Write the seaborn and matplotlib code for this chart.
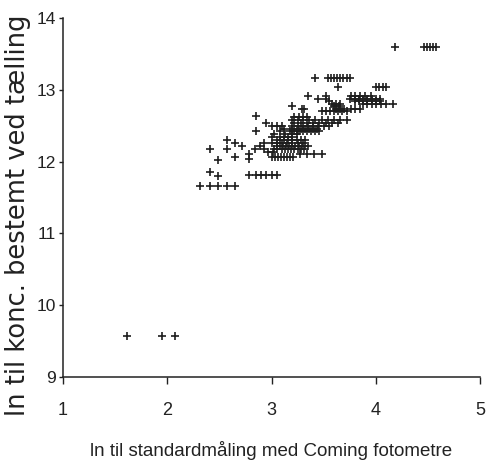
import matplotlib
matplotlib.use("Agg")
import matplotlib.pyplot as plt
import seaborn as sns
import pandas as pd
from matplotlib.ticker import MultipleLocator

# ---- data: each row is one y level with its x values ----
row_y = [9.57, 11.665, 11.80, 11.82, 11.86, 12.02, 12.03, 12.07, 12.10, 12.13,
         12.18, 12.22, 12.26, 12.30, 12.34, 12.38, 12.42, 12.46, 12.50, 12.54,
         12.58, 12.62, 12.63, 12.70, 12.73, 12.77, 12.80, 12.84, 12.87, 12.91,
         13.04, 13.16, 13.60]
row_x = [
    [1.61, 1.95, 2.07],
    [2.31, 2.41, 2.49, 2.57, 2.65],
    [2.49],
    [2.78, 2.85, 2.90, 2.95, 3.00, 3.05],
    [2.41],
    [2.49],
    [2.78],
    [2.65, 3.00, 3.03, 3.06, 3.09, 3.12, 3.15, 3.18, 3.21],
    [2.78, 3.27, 3.34, 3.41, 3.48],
    [2.97, 3.01],
    [2.41, 2.57, 2.84, 2.93, 3.02, 3.05, 3.10, 3.13, 3.16, 3.19, 3.22, 3.25, 3.28, 3.31],
    [2.72, 2.89, 3.05, 3.08, 3.11, 3.14, 3.17, 3.20, 3.23, 3.26, 3.29, 3.32, 3.35],
    [2.65, 2.93, 3.00, 3.05, 3.10, 3.15, 3.20, 3.25, 3.30],
    [2.57, 3.05, 3.08, 3.12, 3.16, 3.20, 3.24, 3.28, 3.32],
    [3.00, 3.08, 3.12, 3.16, 3.20],
    [3.02, 3.13, 3.20, 3.24],
    [2.85, 3.08, 3.18, 3.22, 3.26, 3.30, 3.34, 3.38, 3.42, 3.46],
    [3.12, 3.20, 3.24, 3.28, 3.32, 3.36, 3.40, 3.44],
    [3.00, 3.05, 3.10, 3.20, 3.25, 3.30, 3.35, 3.40, 3.45, 3.50, 3.55],
    [2.95, 3.22, 3.28, 3.34, 3.40, 3.46, 3.52, 3.58, 3.64],
    [3.20, 3.25, 3.30, 3.36, 3.42, 3.48, 3.54, 3.60, 3.66, 3.72],
    [3.22, 3.26, 3.30, 3.34],
    [2.85],
    [3.48, 3.52, 3.56, 3.60, 3.64, 3.68, 3.72],
    [3.29, 3.31, 3.62, 3.66, 3.70, 3.76, 3.80, 3.85],
    [3.20, 3.60, 3.65],
    [3.58, 3.62, 3.66, 3.88, 3.92, 3.96, 4.00, 4.05, 4.10, 4.17],
    [3.55, 3.80, 3.84, 3.88, 3.92, 3.96, 4.00, 4.04],
    [3.45, 3.52, 3.75, 3.80, 3.84, 3.88, 3.92, 3.96, 4.00, 4.04],
    [3.35, 3.52, 3.76, 3.80, 3.85, 3.90, 3.95],
    [3.64, 4.00, 4.03, 4.07, 4.10],
    [3.42, 3.54, 3.57, 3.60, 3.63, 3.66, 3.69, 3.72, 3.75],
    [4.18, 4.46, 4.49, 4.52, 4.55, 4.58],
]

x_ticks = [1, 2, 3, 4, 5]
y_ticks = [9, 10, 11, 12, 13, 14]
x_label = "ln til standardmåling med Coming fotometre"
y_label = "ln til konc. bestemt ved tælling"

xs, ys = [], []
for yv, xl in zip(row_y, row_x):
    for xv in xl:
        xs.append(xv)
        ys.append(yv)
df = pd.DataFrame({"x": xs, "y": ys})

sns.set_style("white")
plt.rcParams["font.family"] = ["Liberation Sans", "DejaVu Sans"]

fig = plt.figure(figsize=(4.86, 4.62), dpi=100)
ax = fig.add_axes([63 / 486, 1 - 377 / 462, 417 / 486, 359 / 462])

sns.scatterplot(data=df, x="x", y="y", marker="+", color="#1e1e1e",
                s=32, linewidth=1.2, ax=ax, legend=False)

ax.set_xlim(1, 5)
ax.set_ylim(9, 14)
ax.set_xticks(x_ticks)
ax.set_yticks(y_ticks)
ax.xaxis.set_minor_locator(MultipleLocator(0.1))
ax.yaxis.set_minor_locator(MultipleLocator(0.1))
ax.tick_params(axis="x", which="major", direction="out", length=5, width=1,
               pad=13, labelsize=13, colors="#222")
ax.tick_params(axis="x", which="minor", direction="out", length=3, width=0.8, colors="#222")
ax.tick_params(axis="y", which="major", direction="out", length=3, width=1,
               pad=2, labelsize=12.5, colors="#222")
ax.tick_params(axis="y", which="minor", direction="out", length=1.5, width=0.6, colors="#222")
ax.xaxis.set_tick_params(bottom=True)
ax.yaxis.set_tick_params(left=True)

for s in ["top", "right"]:
    ax.spines[s].set_visible(False)
for s in ["left", "bottom"]:
    ax.spines[s].set_color("#222")
    ax.spines[s].set_linewidth(1.1)

ax.set_xlabel(x_label, fontsize=13.5, color="#222")
ax.xaxis.set_label_coords(0.5, -0.178)
ax.set_ylabel(y_label, fontsize=18.5, color="#222",
              family=["DejaVu Sans"])
ax.yaxis.set_label_coords(-0.076, 0.45)

fig.savefig("out.png", dpi=100, facecolor="white")
